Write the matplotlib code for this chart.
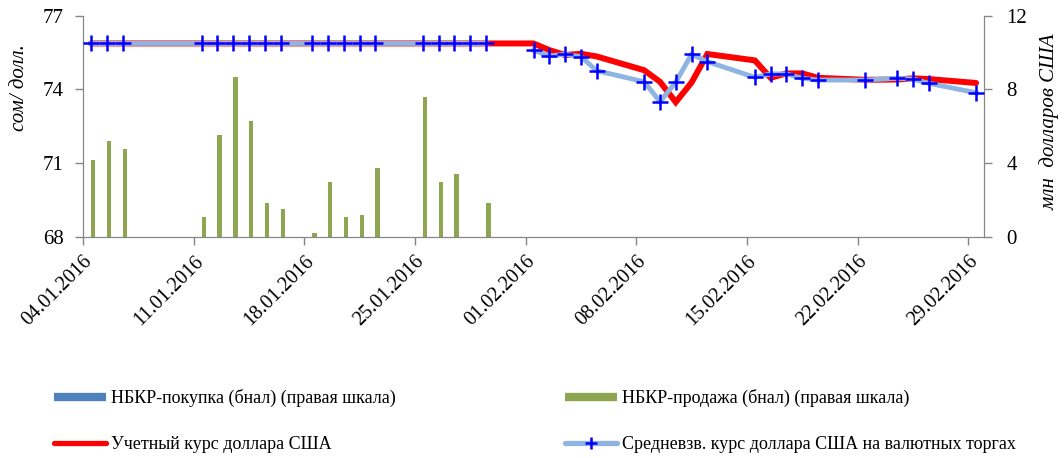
import numpy as np
import pandas as pd
import matplotlib.pyplot as plt
from matplotlib.lines import Line2D

plt.rcParams["font.family"] = ["Liberation Serif", "DejaVu Serif"]

# trading days and weighted average rate on the currency auctions
avg_dates = ["04.01", "05.01", "06.01",
             "11.01", "12.01", "13.01", "14.01", "15.01", "16.01",
             "18.01", "19.01", "20.01", "21.01", "22.01",
             "25.01", "26.01", "27.01", "28.01", "29.01", "30.01",
             "01.02", "02.02", "03.02", "04.02", "05.02",
             "08.02", "09.02", "10.02", "11.02", "12.02",
             "15.02", "16.02", "17.02", "18.02", "19.02",
             "22.02", "24.02", "25.02", "26.02", "29.02"]
avg_rate = [75.87, 75.87, 75.87,
            75.87, 75.87, 75.87, 75.87, 75.87, 75.87,
            75.87, 75.87, 75.87, 75.87, 75.87,
            75.87, 75.87, 75.87, 75.87, 75.87, np.nan,
            75.59, 75.36, 75.43, 75.33, 74.76,
            74.31, 73.50, 74.29, 75.43, 75.13,
            74.49, 74.63, 74.63, 74.45, 74.38,
            74.38, 74.45, 74.42, 74.25, 73.86]

# official (accounting) rate
off_dates = ["04.01", "05.01", "06.01",
             "11.01", "12.01", "13.01", "14.01", "15.01", "16.01",
             "18.01", "19.01", "20.01", "21.01", "22.01",
             "25.01", "26.01", "27.01", "28.01", "29.01",
             "01.02", "02.02", "03.02", "04.02", "05.02",
             "08.02", "09.02", "10.02", "11.02", "12.02",
             "15.02", "16.02", "17.02", "18.02", "19.02",
             "22.02", "24.02", "25.02", "26.02", "29.02"]
off_rate = [75.87, 75.87, 75.87,
            75.87, 75.87, 75.87, 75.87, 75.87, 75.87,
            75.87, 75.87, 75.87, 75.87, 75.87,
            75.87, 75.87, 75.87, 75.87, 75.87,
            75.87, 75.60, 75.40, 75.45, 75.34,
            74.78, 74.31, 73.48, 74.28, 75.44,
            75.18, 74.47, 74.65, 74.65, 74.47,
            74.39, 74.40, 74.45, 74.42, 74.26]

# NBKR interventions, mln USD
sale_dates = ["04.01", "05.01", "06.01",
              "11.01", "12.01", "13.01", "14.01", "15.01", "16.01",
              "18.01", "19.01", "20.01", "21.01", "22.01",
              "25.01", "26.01", "27.01", "29.01"]
sale_vals = [4.16, 5.20, 4.78,
             1.09, 5.52, 8.68, 6.28, 1.85, 1.49,
             0.20, 2.97, 1.09, 1.18, 3.71,
             7.56, 2.97, 3.42, 1.85]
buy_dates = []
buy_vals = []

tick_dates = ["04.01.2016", "11.01.2016", "18.01.2016", "25.01.2016", "01.02.2016",
              "08.02.2016", "15.02.2016", "22.02.2016", "29.02.2016"]

start = pd.Timestamp("2016-01-04")


def days(lst):
    return np.array([(pd.to_datetime(d + ".2016", format="%d.%m.%Y") - start).days for d in lst], dtype=float)


W, H = 1064, 458
fig = plt.figure(figsize=(W / 100, H / 100), dpi=100)
ax = fig.add_axes([83 / W, 1 - 236.7 / H, 901 / W, 221 / H])
ax2 = ax.twinx()
ax.set_zorder(ax2.get_zorder() + 1)
ax.patch.set_visible(False)

bw = 0.28
ax2.bar(days(sale_dates) + bw / 2, sale_vals, width=bw, color="#8DA64F", zorder=2)
if buy_vals:
    ax2.bar(days(buy_dates) - bw / 2, buy_vals, width=bw, color="#4F81BD", zorder=2)

ax.plot(days(off_dates), off_rate, color="#FF0000", lw=4.3, solid_capstyle="round",
        solid_joinstyle="miter", zorder=2)
ax.plot(days(avg_dates), avg_rate, color="#8DB4E2", lw=3.5, zorder=3,
        marker="+", ms=11, mec="#0000FF", mew=1.8)

ax.set_xlim(-0.5, 56.5)
ax.set_ylim(68, 77)
ax.set_yticks([68, 71, 74, 77])
ax2.set_ylim(0, 12)
ax2.set_yticks([0, 4, 8, 12])

tpos = days([t[:5] for t in tick_dates]) - 0.5
ax.set_xticks(tpos)
ax.set_xticklabels(tick_dates, rotation=45, ha="right", va="top", rotation_mode="anchor")

gray = "#868686"
for a in (ax, ax2):
    for s in a.spines.values():
        s.set_color(gray)
    a.spines["top"].set_visible(False)
    a.tick_params(colors=gray, labelcolor="black", labelsize=15, length=6, width=1, pad=8)
ax.tick_params(axis="x", labelsize=14.5, pad=5)
ax2.tick_params(pad=10)

fig.text(19 / W, 1 - 88 / H, "сом/ долл.", fontsize=15, style="italic",
         rotation=90, ha="center", va="center")
fig.text(1050 / W, 1 - 122 / H, "млн  долларов США", fontsize=15, style="italic",
         rotation=90, ha="center", va="center")

handles = [
    Line2D([], [], color="#4F81BD", lw=6, solid_capstyle="butt"),
    Line2D([], [], color="#FF0000", lw=3.8, solid_capstyle="round"),
    Line2D([], [], color="#8DA64F", lw=6, solid_capstyle="butt"),
    Line2D([], [], color="#8DB4E2", lw=3.8, marker="+", ms=8, mec="#0000FF", mew=1.8,
           solid_capstyle="round"),
]
labels = ["НБКР-покупка (бнал) (правая шкала)", "Учетный курс доллара США",
          "НБКР-продажа (бнал) (правая шкала)", "Средневзв. курс доллара США на валютных торгах"]
fig.legend(handles, labels, loc="upper left", bbox_to_anchor=(54 / W, 1 - 389 / H),
           ncol=2, frameon=False, fontsize=13, handlelength=2.9, handletextpad=0.25,
           columnspacing=9.38, labelspacing=1.6, borderpad=0, borderaxespad=0)

fig.savefig("out.png", dpi=100)
